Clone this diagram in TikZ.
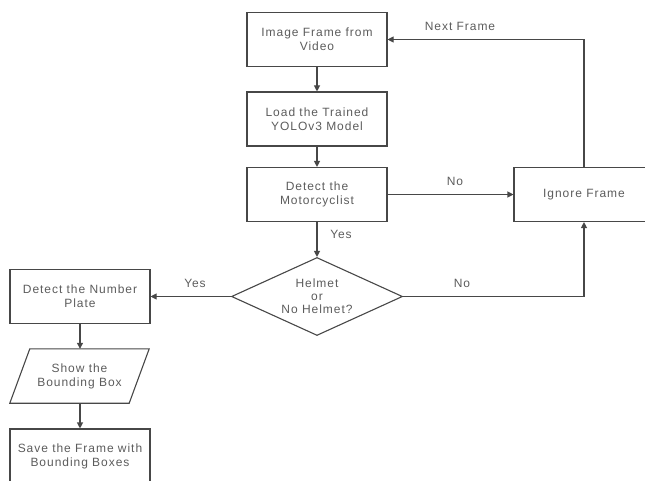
\documentclass[tikz,border=0pt]{standalone}
\usepackage{fontspec}
\setmainfont{Liberation Sans}[LetterSpace=8.0]
\usetikzlibrary{arrows.meta}
\usetikzlibrary{shapes.geometric}

\definecolor{linegrey}{HTML}{474747}
\definecolor{textgrey}{HTML}{5C5C5C}

\tikzset{
	procbox/.style={draw=linegrey, line width=1.1pt, rectangle, minimum width=140pt, minimum height=54pt, align=center, text=textgrey, font=\fontsize{12}{14}\selectfont},
	iobox/.style={rectangle, minimum width=139pt, minimum height=54pt, align=center, text=textgrey, font=\fontsize{12}{14}\selectfont},
	decbox/.style={draw=linegrey, line width=1.1pt, diamond, aspect=2.2, inner sep=0pt, minimum width=171pt, minimum height=78pt, align=center, text=textgrey, font=\fontsize{12}{13}\selectfont},
	flowline/.style={draw=linegrey, line width=1.1pt},
	flowarrow/.style={flowline, -{Triangle[length=6pt,width=6pt]}},
	flowlabel/.style={text=textgrey, font=\fontsize{12}{14}\selectfont},
}

\begin{document}
\begin{tikzpicture}[x=1pt, y=-1pt]

	% page frame
	\useasboundingbox (0,0) rectangle (645,481);
	\clip (0,0) rectangle (645,481);

	% main column
	\node[procbox] (frame) at (317,39.5) {Image Frame from\\Video};
	\node[procbox] (load) at (317,119) {Load the Trained\\YOLOv3 Model};
	\node[procbox] (detect) at (317,194.5) {Detect the\\Motorcyclist};
	\node[decbox] (helmet) at (317,296.5) {Helmet\\or\\No Helmet?};

	% side boxes
	\node[procbox] (ignore) at (584,194.5) {Ignore Frame};
	\node[procbox] (plate) at (80,296.5) {Detect the Number\\Plate};
	\node[iobox] (show) at (79.5,376) {Show the\\Bounding Box};
	\node[procbox] (save) at (80,456) {Save the Frame with\\Bounding Boxes};

	% parallelogram round the output step
	\draw[flowline] ([xshift=20pt]show.north west) -- (show.north east)
		-- ([xshift=-20pt]show.south east) -- (show.south west) -- cycle;

	% connectors
	\draw[flowarrow] (frame) -- (load);
	\draw[flowarrow] (load) -- (detect);
	\draw[flowarrow] (detect) -- (ignore);
	\draw[flowarrow] (ignore.north) |- (frame.east);
	\draw[flowarrow] (detect) -- (helmet);
	\draw[flowarrow] (helmet.east) -| (ignore.south);
	\draw[flowarrow] (helmet.west) -- (plate.east);
	\draw[flowarrow] (plate) -- ([xshift=0.5pt]show.north);
	\draw[flowarrow] ([xshift=0.5pt]show.south) -- (save);

	% connector labels
	\node[flowlabel] (lnext) at (460,26) {Next Frame};
	\node[flowlabel] (lno1) at (455,181) {No};
	\node[flowlabel] (lyes1) at (341,234) {Yes};
	\node[flowlabel] (lno2) at (462,283) {No};
	\node[flowlabel] (lyes2) at (195,283) {Yes};

\end{tikzpicture}
\end{document}
